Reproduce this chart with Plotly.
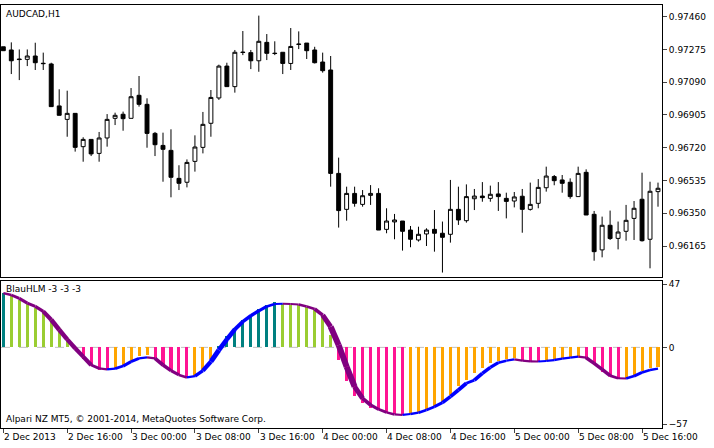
import plotly.graph_objects as go

# AUDCAD H1, bars from 2 Dec 2013 08:00
opens = [0.97290, 0.97272, 0.97221, 0.97219, 0.97238, 0.97197, 0.97193, 0.96956, 0.96880, 0.96914,
         0.96726, 0.96767, 0.96688, 0.96775, 0.96886, 0.96909, 0.96886, 0.97016, 0.96965, 0.96801,
         0.96733, 0.96705, 0.96547, 0.96525, 0.96643, 0.96722, 0.96858, 0.97001, 0.97181, 0.97065,
         0.97260, 0.97257, 0.97211, 0.97315, 0.97254, 0.97259, 0.97196, 0.97303, 0.97311, 0.97272,
         0.97204, 0.97159, 0.96575, 0.96372, 0.96462, 0.96400, 0.96451, 0.96462, 0.96259, 0.96301,
         0.96306, 0.96255, 0.96199, 0.96233, 0.96259, 0.96237, 0.96231, 0.96372, 0.96308, 0.96432,
         0.96447, 0.96434, 0.96459, 0.96434, 0.96419, 0.96446, 0.96372, 0.96406, 0.96494, 0.96557,
         0.96538, 0.96525, 0.96444, 0.96581, 0.96344, 0.96143, 0.96282, 0.96208, 0.96248, 0.96321,
         0.96429, 0.96203, 0.96472]
highs = [0.97290, 0.97315, 0.97275, 0.97275, 0.97313, 0.97257, 0.97200, 0.97050, 0.97042, 0.96914,
         0.96779, 0.96767, 0.96809, 0.96910, 0.96918, 0.96924, 0.97057, 0.97125, 0.96999, 0.96809,
         0.96805, 0.96824, 0.96621, 0.96654, 0.96790, 0.96922, 0.97046, 0.97189, 0.97200, 0.97272,
         0.97379, 0.97272, 0.97466, 0.97362, 0.97321, 0.97259, 0.97396, 0.97377, 0.97311, 0.97290,
         0.97257, 0.97238, 0.96664, 0.96500, 0.96500, 0.96481, 0.96509, 0.96491, 0.96378, 0.96346,
         0.96306, 0.96278, 0.96274, 0.96265, 0.96368, 0.96303, 0.96538, 0.96500, 0.96513, 0.96487,
         0.96526, 0.96506, 0.96526, 0.96466, 0.96470, 0.96487, 0.96523, 0.96543, 0.96613, 0.96566,
         0.96566, 0.96547, 0.96613, 0.96598, 0.96363, 0.96331, 0.96365, 0.96303, 0.96397, 0.96419,
         0.96579, 0.96528, 0.96523]
lows = [0.97268, 0.97136, 0.97102, 0.97181, 0.97159, 0.97159, 0.96952, 0.96903, 0.96782, 0.96698,
        0.96641, 0.96673, 0.96641, 0.96726, 0.96848, 0.96816, 0.96886, 0.96952, 0.96720, 0.96673,
        0.96528, 0.96440, 0.96481, 0.96496, 0.96585, 0.96688, 0.96782, 0.96990, 0.97065, 0.97031,
        0.97243, 0.97164, 0.97149, 0.97215, 0.97243, 0.97136, 0.97159, 0.97277, 0.97221, 0.97196,
        0.97144, 0.96500, 0.96269, 0.96308, 0.96387, 0.96387, 0.96397, 0.96255, 0.96237, 0.96203,
        0.96139, 0.96158, 0.96190, 0.96165, 0.96133, 0.96015, 0.96184, 0.96284, 0.96297, 0.96368,
        0.96415, 0.96415, 0.96363, 0.96321, 0.96383, 0.96240, 0.96365, 0.96378, 0.96472, 0.96508,
        0.96466, 0.96432, 0.96444, 0.96340, 0.96082, 0.96101, 0.96199, 0.96146, 0.96195, 0.96199,
        0.96190, 0.96039, 0.96387]
closes = [0.97268, 0.97211, 0.97218, 0.97238, 0.97200, 0.97195, 0.96952, 0.96903, 0.96914, 0.96722,
          0.96767, 0.96685, 0.96775, 0.96880, 0.96903, 0.96884, 0.97008, 0.96965, 0.96801, 0.96737,
          0.96711, 0.96553, 0.96519, 0.96637, 0.96724, 0.96852, 0.97004, 0.97181, 0.97065, 0.97259,
          0.97258, 0.97211, 0.97321, 0.97253, 0.97252, 0.97196, 0.97292, 0.97305, 0.97268, 0.97200,
          0.97155, 0.96575, 0.96365, 0.96462, 0.96406, 0.96449, 0.96462, 0.96255, 0.96306, 0.96312,
          0.96248, 0.96203, 0.96231, 0.96255, 0.96237, 0.96214, 0.96372, 0.96312, 0.96444, 0.96447,
          0.96438, 0.96457, 0.96444, 0.96417, 0.96442, 0.96372, 0.96400, 0.96496, 0.96560, 0.96534,
          0.96519, 0.96444, 0.96575, 0.96340, 0.96133, 0.96282, 0.96207, 0.96244, 0.96310, 0.96378,
          0.96195, 0.96474, 0.96491]

# BlauHLM histogram and signal
hist = [40.6, 38.9, 35.1, 32.2, 29.0, 27.0, 21.0, 14.6, 6.7, -1.5,
        -8.9, -13.9, -16.8, -16.9, -16.3, -13.9, -10.6, -6.4, -5.7, -8.2,
        -13.9, -17.3, -20.5, -22.3, -21.3, -16.8, -8.9, 0.5, 8.4, 14.1,
        20.3, 24.0, 28.2, 31.4, 33.4, 31.9, 31.8, 31.6, 29.7, 27.7,
        24.0, 9.2, -9.4, -24.8, -36.1, -41.6, -44.8, -46.5, -48.5, -49.8,
        -50.2, -49.8, -48.5, -46.5, -44.1, -40.3, -35.4, -28.7, -24.3, -19.3,
        -15.6, -11.9, -9.9, -8.9, -7.7, -10.1, -11.1, -11.2, -10.1, -8.9,
        -7.7, -6.9, -6.4, -8.7, -13.1, -18.1, -21.8, -23.3, -23.0, -21.8,
        -17.3, -15.6, -14.4]
signal = [40.3, 38.9, 36.4, 32.9, 30.4, 26.7, 20.5, 13.1, 5.9, -0.7,
          -6.9, -13.1, -15.6, -16.3, -15.8, -13.9, -10.6, -8.2, -7.4, -8.2,
          -13.1, -17.3, -20.5, -22.3, -21.3, -17.3, -10.6, -2.0, 5.9, 13.4,
          19.1, 23.5, 27.2, 30.4, 32.2, 32.4, 32.2, 31.9, 30.4, 28.5,
          24.0, 15.3, 1.7, -14.4, -29.2, -37.9, -42.8, -46.0, -48.3, -49.8,
          -50.2, -49.5, -48.5, -46.5, -44.1, -41.1, -36.6, -31.7, -26.7, -24.3,
          -19.3, -14.9, -11.4, -9.9, -8.9, -9.9, -10.4, -10.5, -10.1, -9.4,
          -8.4, -7.7, -6.9, -7.7, -11.9, -16.3, -21.0, -23.0, -23.1, -21.3,
          -18.6, -16.8, -15.8]
tick_labels = ["2 Dec 2013", "2 Dec 16:00", "3 Dec 00:00", "3 Dec 08:00", "3 Dec 16:00",
               "4 Dec 00:00", "4 Dec 08:00", "4 Dec 16:00", "5 Dec 00:00", "5 Dec 08:00",
               "5 Dec 16:00"]
price_ticks = [0.96165, 0.96350, 0.96535, 0.96720, 0.96905, 0.97090, 0.97275, 0.97460]

idx = list(range(len(opens)))
tick_idx = [i * 8 for i in range(len(tick_labels))]

# histogram colours: rising/falling above and below zero
bar_colors = []
for i, v in enumerate(hist):
    prev = hist[i - 1] if i > 0 else v - 1
    if v >= 0:
        bar_colors.append("#008080" if v > prev else "#9ACD32")
    else:
        bar_colors.append("#FFA500" if v > prev else "#FF1493")

fig = go.Figure()
fig.add_trace(go.Candlestick(
    x=idx, open=opens, high=highs, low=lows, close=closes,
    increasing=dict(line=dict(color="black", width=1), fillcolor="white"),
    decreasing=dict(line=dict(color="black", width=1), fillcolor="black"),
    whiskerwidth=0, xaxis="x", yaxis="y", showlegend=False))

fig.add_trace(go.Bar(x=idx, y=hist, marker=dict(color=bar_colors, line_width=0),
                     width=0.38, xaxis="x2", yaxis="y2", showlegend=False))

# signal line: blue while rising, purple while falling
for i in range(1, len(signal)):
    col = "#0000FF" if signal[i] >= signal[i - 1] else "#800080"
    w = 2 + min(abs(signal[i] - signal[i - 1]) * 0.35, 4)
    fig.add_trace(go.Scatter(x=[i - 1, i], y=[signal[i - 1], signal[i]], mode="lines",
                             line=dict(color=col, width=w), xaxis="x2", yaxis="y2",
                             showlegend=False, hoverinfo="skip"))

xr = [-0.29, 82.5]
fig.update_layout(
    width=714, height=448, margin=dict(l=1, r=52, t=5, b=20),
    paper_bgcolor="white", plot_bgcolor="white", bargap=0,
    font=dict(family="DejaVu Sans", size=10, color="black"),
    xaxis=dict(domain=[0, 1], range=xr, anchor="y", showticklabels=False, showgrid=False,
               rangeslider=dict(visible=False), zeroline=False, showline=True, linecolor="black",
               mirror=True, ticks=""),
    yaxis=dict(domain=[0.357, 1], range=[0.95990, 0.97526], side="right", tickvals=price_ticks,
               ticktext=["%.5f" % p for p in price_ticks], ticks="outside", ticklen=4,
               showgrid=False, zeroline=False, showline=True, linecolor="black", mirror=True,
               tickfont=dict(size=9), automargin=False),
    xaxis2=dict(domain=[0, 1], range=xr, anchor="y2", tickvals=tick_idx,
                ticktext=[""] * len(tick_idx), ticks="outside", ticklen=4, showgrid=False,
                zeroline=False, showline=True, linecolor="black", mirror=True, automargin=False),
    yaxis2=dict(domain=[0, 0.3475], range=[-59.9, 49.3], side="right", tickvals=[-57, 0, 47],
                ticks="outside", ticklen=4, showgrid=False, zeroline=False, showline=True,
                linecolor="black", mirror=True, tickfont=dict(size=9), automargin=False),
)
fig.add_shape(type="line", xref="x2", yref="y2", x0=xr[0], x1=xr[1], y0=0, y1=0,
              line=dict(color="#C0C0C0", width=1, dash="dash"), layer="below")

for t, lab in zip(tick_idx, tick_labels):
    fig.add_annotation(x=t - 0.15, y=-0.005, xref="x2", yref="paper", text=lab, showarrow=False,
                       xanchor="left", yanchor="top", font=dict(size=9))
fig.add_annotation(x=0.005, y=0.995, xref="paper", yref="paper", text="AUDCAD,H1",
                   showarrow=False, xanchor="left", yanchor="top", font=dict(size=9))
fig.add_annotation(x=0.005, y=0.3445, xref="paper", yref="paper", text="BlauHLM -3 -3 -3",
                   showarrow=False, xanchor="left", yanchor="top", font=dict(size=9))
fig.add_annotation(x=0.005, y=0.005, xref="paper", yref="paper",
                   text="Alpari NZ MT5, © 2001-2014, MetaQuotes Software Corp.",
                   showarrow=False, xanchor="left", yanchor="bottom", font=dict(size=9))

fig.write_html("out.html", config={"displayModeBar": False},
               post_script="document.body.style.margin='0';")
